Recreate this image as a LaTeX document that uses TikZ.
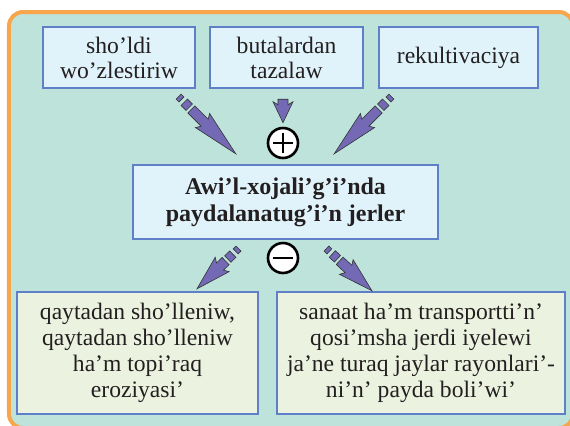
\documentclass[tikz,border=0pt]{standalone}
\usepackage{fontspec}
\setmainfont{Liberation Serif}
\usetikzlibrary{calc,positioning}
\definecolor{framefill}{RGB}{190,227,218}
\definecolor{frameline}{RGB}{247,166,76}
\definecolor{topfill}{RGB}{224,243,250}
\definecolor{lowfill}{RGB}{235,243,224}
\definecolor{boxline}{RGB}{95,128,200}
\definecolor{arrowfill}{RGB}{115,105,180}
\definecolor{ink}{RGB}{35,31,32}
\tikzset{
  frame/.style    = {draw=frameline, fill=framefill, line width=2pt, rounded corners=7pt},
  box/.style      = {draw=boxline, line width=1.2pt, align=center, inner sep=0pt, text=ink},
  topbox/.style   = {box, fill=topfill, minimum height=30.5pt,
                     font=\fontsize{11.8}{12.5}\selectfont},
  mainbox/.style  = {box, fill=topfill, minimum width=152.5pt, minimum height=37pt,
                     font=\bfseries\fontsize{12}{13.5}\selectfont},
  lowbox/.style   = {box, fill=lowfill, minimum height=61pt,
                     font=\fontsize{11.8}{13}\selectfont},
  sign/.style     = {circle, draw=black, line width=1.3pt, fill=white, minimum size=15pt,
                     inner sep=0pt},
  signbar/.style  = {line width=1.3pt},
  arrowpart/.style= {draw=black!80, line width=0.3pt, fill=arrowfill},
}
% fat arrow: tail, tip, head length (px), dashed tail (1/0)
\newcommand\fatarrow[4]{%
  \path let \p1=($(#2)-(#1)$), \n1={atan2(\y1,\x1)}, \n2={veclen(\x1,\y1)} in
    \pgfextra{\xdef\faangle{\n1}\xdef\falength{\n2}};
  \begin{scope}[shift={(#1)}, rotate=\faangle, x=0.5pt, y=0.5pt]
    \pgfmathsetmacro\fatip{2*\falength}
    \pgfmathsetmacro\fabase{\fatip-#3}
    \ifnum#4=1
      \draw[arrowpart] (2,-3.5) rectangle (6,3.5);
      \draw[arrowpart] (10,-4.5) rectangle (17,4.5);
      \def\fastart{20}
    \else
      \def\fastart{0}
    \fi
    \draw[arrowpart] (\fastart,-5) -- (\fabase,-5) -- (\fabase-3,-10) -- (\fatip,0)
      -- (\fabase-3,10) -- (\fabase,5) -- (\fastart,5) -- cycle;
  \end{scope}}
\begin{document}
\begin{tikzpicture}[x=0.5pt,y=-0.5pt]
  \useasboundingbox (0,0) rectangle (570,425);
  \clip (0,0) rectangle (570,425);
  \path[frame] (9,12) rectangle (573,428);

  % top row
  \node[topbox, minimum width=76pt]   (shold) at (119,57.5)   {sho’ldi\\wo’zlestiriw};
  \node[topbox, minimum width=76.5pt] (buta)  at (286.5,57.5) {butalardan\\tazalaw};
  \node[topbox, minimum width=79.5pt] (rekul) at (458.5,57.5) {rekultivaciya};

  % centre
  \node[mainbox] (jer) at (285.5,202) {Awi’l-xojali’g’i’nda\\paydalanatug’i’n jerler};
  \node[sign] (plus)  at (283,143) {};
  \node[sign] (minus) at (283,258) {};
  \draw[signbar] ($(plus.center)+(-10,0)$) -- ($(plus.center)+(10,0)$);
  \draw[signbar] ($(plus.center)+(0,-10)$) -- ($(plus.center)+(0,10)$);
  \draw[signbar] ($(minus.center)+(-10,0)$) -- ($(minus.center)+(10,0)$);

  % bottom row
  \node[lowbox, minimum width=120.5pt] (erozi) at (137.5,353)
    {qaytadan sho’lleniw,\\qaytadan sho’lleniw\\ha’m topi’raq\\eroziyasi’};
  \node[lowbox, minimum width=144pt] (sanaat) at (421,353)
    {sanaat ha’m transportti’n’\\qosi’msha jerdi iyelewi\\ja’ne turaq jaylar rayonlari’-\\ni’n’ payda boli’wi’};

  % arrow ends
  \coordinate (a1) at ($(shold.south east)+(-19,6)$);
  \coordinate (b1) at ($(jer.north west)+(104,-10)$);
  \coordinate (a2) at ($(buta.south)+(-3.5,10)$);
  \coordinate (b2) at ($(plus.north)+(0,-4)$);
  \coordinate (a3) at ($(rekul.south west)+(15,6)$);
  \coordinate (b3) at ($(jer.north east)+(-105,-10)$);
  \coordinate (a4) at ($(jer.south)+(-45.5,7)$);
  \coordinate (b4) at ($(erozi.north)+(59.5,-2)$);
  \coordinate (a5) at ($(jer.south)+(39.5,7)$);
  \coordinate (b5) at ($(sanaat.north)+(-49,0)$);

  \fatarrow{a1}{b1}{44}{1}
  \fatarrow{a2}{b2}{18}{0}
  \fatarrow{a3}{b3}{44}{1}
  \fatarrow{a4}{b4}{32}{1}
  \fatarrow{a5}{b5}{32}{1}
\end{tikzpicture}
\end{document}
